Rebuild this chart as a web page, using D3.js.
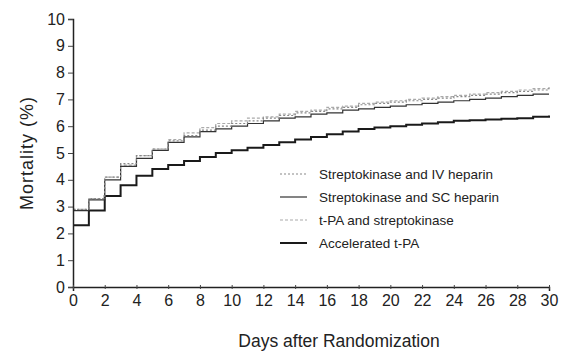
<!DOCTYPE html>
<html>
<head>
<meta charset="utf-8">
<script src="https://cdn.jsdelivr.net/npm/d3@7"></script>
<style>
  body { margin: 0; background: #fff; }
  text { font-family: "Liberation Sans", Arial, sans-serif; fill: #222; }
</style>
</head>
<body>
<div id="chart"></div>
<script>
// step values, one per day 0..30
const days = d3.range(0, 31);
const skIV = [2.9, 3.3, 4.1, 4.6, 4.9, 5.15, 5.45, 5.65, 5.85, 6.0, 6.1, 6.2, 6.3, 6.4, 6.5, 6.55, 6.65, 6.7, 6.8, 6.85, 6.9, 6.95, 7.0, 7.05, 7.1, 7.15, 7.2, 7.25, 7.3, 7.35, 7.45];
const skSC = [2.85, 3.25, 4.0, 4.5, 4.8, 5.1, 5.4, 5.6, 5.8, 5.9, 6.0, 6.1, 6.2, 6.3, 6.35, 6.45, 6.5, 6.6, 6.65, 6.7, 6.75, 6.8, 6.85, 6.9, 6.95, 7.0, 7.05, 7.1, 7.15, 7.2, 7.2];
const tpaSK = [2.9, 3.3, 4.1, 4.55, 4.9, 5.15, 5.5, 5.75, 5.95, 6.1, 6.2, 6.3, 6.35, 6.45, 6.55, 6.6, 6.7, 6.75, 6.85, 6.9, 6.95, 7.0, 7.05, 7.1, 7.15, 7.2, 7.25, 7.3, 7.35, 7.4, 7.4];
const accTPA = [2.3, 2.85, 3.4, 3.8, 4.15, 4.4, 4.55, 4.7, 4.85, 5.0, 5.1, 5.2, 5.3, 5.4, 5.5, 5.6, 5.7, 5.8, 5.9, 5.95, 6.0, 6.05, 6.1, 6.15, 6.2, 6.22, 6.25, 6.28, 6.3, 6.35, 6.4];
const seriesNames = ["Streptokinase and IV heparin", "Streptokinase and SC heparin", "t-PA and streptokinase", "Accelerated t-PA"];
const xTicks = d3.range(0, 31, 2);
const yTicks = d3.range(0, 11);

const series = [
  {name: seriesNames[0], values: skIV, color: "#888", width: 1.2, dash: "2,2"},
  {name: seriesNames[1], values: skSC, color: "#333", width: 1.2, dash: null},
  {name: seriesNames[2], values: tpaSK, color: "#aaa", width: 1.2, dash: "3,2"},
  {name: seriesNames[3], values: accTPA, color: "#1a1a1a", width: 2, dash: null}
];

const W = 562, H = 354;
const margin = {top: 19, right: 13, bottom: 67, left: 73};
const width = W - margin.left - margin.right;
const height = H - margin.top - margin.bottom;

const svg = d3.select("#chart").append("svg")
  .attr("width", W).attr("height", H);
const g = svg.append("g").attr("transform", `translate(${margin.left},${margin.top})`);

const x = d3.scaleLinear().domain([0, 30]).range([0, width]);
const y = d3.scaleLinear().domain([0, 10]).range([height, 0]);

// curves, drawn back to front
const line = d3.line()
  .x((d, i) => x(days[i]))
  .y(d => y(d))
  .curve(d3.curveStepAfter);

g.selectAll("path.curve")
  .data(series.slice().reverse())
  .enter().append("path")
  .attr("class", "curve")
  .attr("fill", "none")
  .attr("stroke", d => d.color)
  .attr("stroke-width", d => d.width)
  .attr("stroke-dasharray", d => d.dash)
  .attr("d", d => line(d.values));

// axes
const yAxis = g.append("g")
  .call(d3.axisLeft(y).tickValues(yTicks).tickSize(5).tickPadding(3));
const xAxis = g.append("g")
  .attr("transform", `translate(0,${height})`)
  .call(d3.axisBottom(x).tickValues(xTicks).tickSize(4).tickPadding(4));

[xAxis, yAxis].forEach(a => {
  a.select(".domain").attr("stroke", "#222").attr("stroke-width", 1.5);
  a.selectAll(".tick line").attr("stroke", "#444");
  a.selectAll("text").style("font-size", "16px").attr("fill", "#222");
});
xAxis.selectAll(".tick line").attr("y1", -2).attr("y2", 2);

// axis titles
svg.append("text")
  .attr("transform", `translate(33,${margin.top + height / 2}) rotate(-90)`)
  .attr("text-anchor", "middle")
  .style("font-size", "18px")
  .style("letter-spacing", "1px")
  .text("Mortality (%)");

svg.append("text")
  .attr("x", 339)
  .attr("y", 347)
  .attr("text-anchor", "middle")
  .style("font-size", "17.5px")
  .text("Days after Randomization");

// legend
const legend = g.append("g").attr("transform", `translate(205,155)`);
const rowH = 23;
legend.selectAll("line")
  .data(series).enter().append("line")
  .attr("x1", 2).attr("x2", 29)
  .attr("y1", (d, i) => i * rowH).attr("y2", (d, i) => i * rowH)
  .attr("stroke", d => d.color)
  .attr("stroke-width", d => d.width)
  .attr("stroke-dasharray", d => d.dash);
legend.selectAll("text")
  .data(series).enter().append("text")
  .attr("x", 41)
  .attr("y", (d, i) => i * rowH)
  .attr("dy", "0.35em")
  .style("font-size", "13.5px")
  .text(d => d.name);
</script>
</body>
</html>
